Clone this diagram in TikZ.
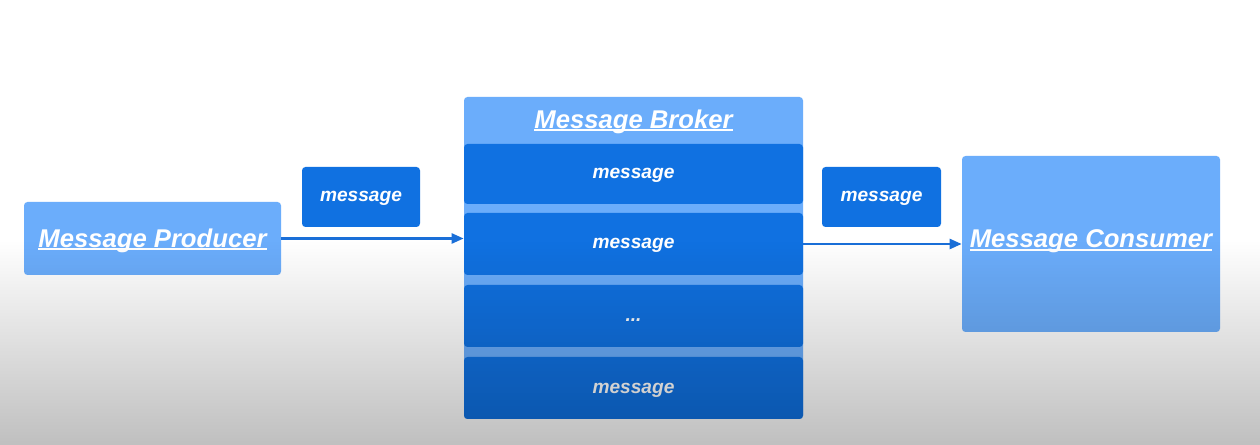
\documentclass[tikz,border=0pt]{standalone}
\usepackage{fontspec}
\setmainfont{Liberation Sans}
\usetikzlibrary{positioning,arrows.meta,shapes}
\definecolor{lightblue}{HTML}{6BADFB}
\definecolor{darkblue}{HTML}{1071E1}
\definecolor{linkblue}{HTML}{1A6FD8}
\newcommand{\undertext}[1]{\setbox0\hbox{#1}\rlap{\rule[-1.8pt]{\wd0}{1.1pt}}\box0}

\begin{document}
\begin{tikzpicture}[
    lightbox/.style={fill=lightblue, rounded corners=2pt, text=white, text height=12.9pt, text depth=3.1pt, font=\bfseries\itshape\fontsize{14.6}{17}\selectfont},
    msgbox/.style={fill=darkblue, rounded corners=2pt, text=white, text height=8pt, text depth=2.3pt, font=\bfseries\itshape\fontsize{10.9}{13}\selectfont, inner sep=0pt},
    link/.style={-{Triangle[length=2.4mm,width=2mm]}, line width=1.4pt, linkblue}
]
    \useasboundingbox (0,0) rectangle (25.2,8.9);
    \fill[white] (0,0) rectangle (25.2,8.9);

    \node[lightbox, minimum width=5.14cm, minimum height=1.46cm] (producer) at (3.05,4.13) {\undertext{Message Producer}};
    \node[msgbox, minimum width=2.36cm, minimum height=1.2cm] (msgin) at (7.22,4.96) {message};

    \node[lightbox, minimum width=6.78cm, minimum height=6.44cm] (broker) at (12.67,3.74) {};
    \node[lightbox, fill=none] (brokertitle) at (12.67,6.51) {\undertext{Message Broker}};
    \node[msgbox, minimum width=6.78cm, minimum height=1.2cm] (slot1) at (12.67,5.42) {message};
    \node[msgbox, minimum width=6.78cm, minimum height=1.24cm] (slot2) at (12.67,4.02) {message};
    \node[msgbox, minimum width=6.78cm, minimum height=1.24cm] (slot3) at (12.67,2.58) {...};
    \node[msgbox, minimum width=6.78cm, minimum height=1.24cm] (slot4) at (12.67,1.14) {message};

    \node[msgbox, minimum width=2.38cm, minimum height=1.2cm] (msgout) at (17.63,4.96) {message};
    \node[lightbox, minimum width=5.16cm, minimum height=3.52cm] (consumer) at (21.82,4.02) {};
    \node[lightbox, fill=none] (consumertitle) at (21.82,4.12) {\undertext{Message Consumer}};

    \draw[link] (producer.east) -- (producer.east -| slot2.west);
    \draw[link] (slot2.east) -- (consumer.west);

    % screen shading towards the bottom
    \shade[blend mode=multiply, top color=white, bottom color=black!25] (0,0) rectangle (25.2,4.1);
\end{tikzpicture}
\end{document}
